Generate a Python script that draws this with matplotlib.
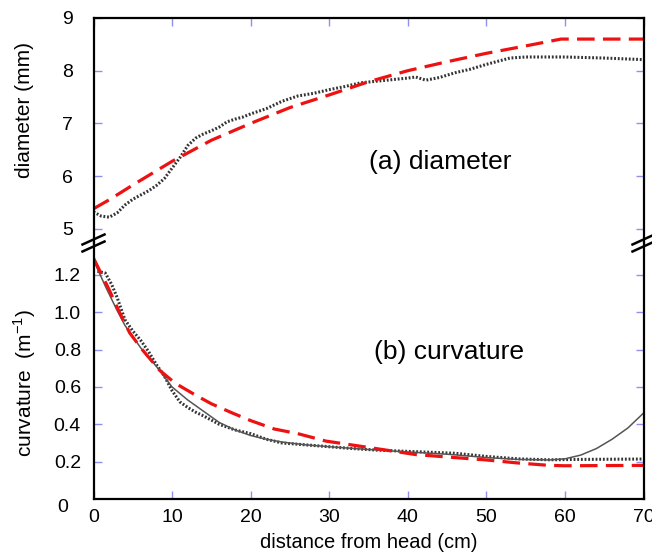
import matplotlib
matplotlib.use("Agg")
import matplotlib.pyplot as plt
from matplotlib.lines import Line2D

plt.rcParams['font.family'] = 'Liberation Sans'
plt.rcParams['mathtext.fontset'] = 'custom'
plt.rcParams['mathtext.rm'] = 'Liberation Sans'

# (a) diameter, measured (dotted) and model (red dashed)
diam_x = [0, 1, 2, 3, 4, 5, 6, 7, 8, 9, 10, 11, 12, 13, 14, 15, 16, 17, 18, 19, 20,
          22, 24, 26, 28, 30, 32, 34, 36, 38, 40, 41, 42.3, 44, 46, 48, 50, 52, 53,
          55, 60, 65, 70]
diam_meas = [5.32, 5.24, 5.22, 5.30, 5.45, 5.56, 5.64, 5.72, 5.82, 5.95, 6.15, 6.35,
             6.58, 6.72, 6.80, 6.86, 6.93, 7.03, 7.08, 7.12, 7.18, 7.28, 7.42, 7.52,
             7.57, 7.64, 7.70, 7.77, 7.80, 7.83, 7.86, 7.88, 7.82, 7.87, 7.96, 8.03,
             8.12, 8.20, 8.24, 8.26, 8.26, 8.24, 8.21]
diam_model_x = [0, 2, 5, 10, 15, 20, 25, 30, 35, 40, 45, 50, 55, 59.5, 70]
diam_model = [5.38, 5.55, 5.83, 6.28, 6.68, 7.00, 7.30, 7.54, 7.79, 8.00, 8.17,
              8.33, 8.47, 8.60, 8.60]

# (b) curvature, measured (dotted), fit (grey) and model (red dashed)
curv_x = [0.5, 1.5, 2.3, 3, 3.5, 4, 5, 6, 7, 8, 9, 10, 11, 12, 13, 14, 16, 18, 20,
          22, 24, 27, 30, 33, 36, 40, 43, 46, 50, 54, 58, 62, 66, 70]
curv_meas = [1.22, 1.21, 1.15, 1.08, 1.02, 0.96, 0.90, 0.85, 0.79, 0.72, 0.66, 0.58,
             0.52, 0.49, 0.465, 0.445, 0.40, 0.37, 0.35, 0.32, 0.30, 0.29, 0.28,
             0.27, 0.262, 0.255, 0.25, 0.245, 0.228, 0.215, 0.21, 0.212, 0.213, 0.214]
fit_x = [0, 1.5, 3, 4, 6, 8, 10, 12, 14, 16, 18, 20, 22, 24, 27, 30, 35, 40, 45,
         50, 54, 58, 60, 62, 64, 66, 68, 70]
curv_fit = [1.28, 1.14, 1.01, 0.93, 0.81, 0.71, 0.60, 0.53, 0.47, 0.41, 0.37, 0.34,
            0.32, 0.305, 0.29, 0.28, 0.265, 0.252, 0.24, 0.222, 0.212, 0.209, 0.215,
            0.235, 0.27, 0.32, 0.38, 0.46]
curv_model_x = [0, 2, 3.3, 4.6, 6.2, 8.4, 10.4, 13, 15, 17.7, 20, 23, 26, 29.6,
                35.5, 41, 45, 50, 54, 58, 60, 70]
curv_model = [1.29, 1.12, 1.00, 0.89, 0.80, 0.69, 0.62, 0.556, 0.51, 0.46, 0.42,
              0.375, 0.35, 0.31, 0.273, 0.238, 0.225, 0.209, 0.193, 0.18, 0.178, 0.18]

x_ticks = [0, 10, 20, 30, 40, 50, 60, 70]
diam_ticks = [5, 6, 7, 8, 9]
curv_ticks = [0.2, 0.4, 0.6, 0.8, 1.0, 1.2]

tick_blue = '#9090ee'
red = '#ee1111'
W, H = 652, 559

fig = plt.figure(figsize=(6.52, 5.59), dpi=100)
L = 93.5 / W
Wd = 550 / W
ax1 = fig.add_axes([L, 1 - 243 / H, Wd, 225 / H])
ax2 = fig.add_axes([L, 1 - 499 / H, Wd, 256 / H])

# top panel
ax1.plot(diam_x, diam_meas, color='#333333', lw=2.2, linestyle=(0, (0.6, 0.6)))
ax1.plot(diam_model_x, diam_model, color=red, lw=2.3, dashes=(5.5, 2.6))
ax1.set_xlim(0, 70)
ax1.set_ylim(4.73, 9)
ax1.set_yticks(diam_ticks)
ax1.set_xticks(x_ticks)
ax1.spines['bottom'].set_visible(False)
ax1.tick_params(axis='x', bottom=False, labelbottom=False, top=True)
ax1.tick_params(axis='y', left=True, right=True, pad=15)

# bottom panel
ax2.plot(curv_x, curv_meas, color='#333333', lw=2.2, linestyle=(0, (0.6, 0.6)))
ax2.plot(fit_x, curv_fit, color='#555555', lw=1.1)
ax2.plot(curv_model_x, curv_model, color=red, lw=2.3, dashes=(5.5, 2.6))
ax2.set_xlim(0, 70)
ax2.set_ylim(0, 1.371)
ax2.set_yticks(curv_ticks)
ax2.set_yticklabels(['%.1f' % v for v in curv_ticks])
ax2.set_xticks(x_ticks)
ax2.spines['top'].set_visible(False)
ax2.tick_params(axis='x', bottom=True, top=False, pad=7.5)
ax2.tick_params(axis='y', left=True, right=True, pad=9)
ax2.annotate('0', xy=(0, 0), xycoords='axes fraction', xytext=(-18.5, -5.8),
             textcoords='offset points', ha='right', va='center', fontsize=14)

for ax in (ax1, ax2):
    for s in ax.spines.values():
        s.set_linewidth(1.6)
    ax.tick_params(direction='in', length=6, width=1, color=tick_blue,
                   labelsize=14, labelcolor='black')

ax2.set_xlabel('distance from head (cm)', fontsize=14.5, labelpad=5)
fig.text(24 / W, 1 - 110 / H, 'diameter (mm)', rotation=90, ha='center',
         va='center', fontsize=15)
fig.text(25 / W, 1 - 383 / H, 'curvature  (m$^{\\mathregular{-1}}$)', rotation=90,
         ha='center', va='center', fontsize=15)
fig.text(440 / W, 1 - 162 / H, '(a) diameter', ha='center', va='center', fontsize=19)
fig.text(449 / W, 1 - 352 / H, '(b) curvature', ha='center', va='center', fontsize=19)

# axis break marks
for xc in (93.5, 643.5):
    for dy in (-3.5, 3.5):
        y0 = 243 + dy
        fig.add_artist(Line2D([(xc - 11) / W, (xc + 11) / W],
                              [1 - (y0 + 5) / H, 1 - (y0 - 5) / H],
                              color='black', lw=1.8))

fig.savefig('out.png', dpi=100)
